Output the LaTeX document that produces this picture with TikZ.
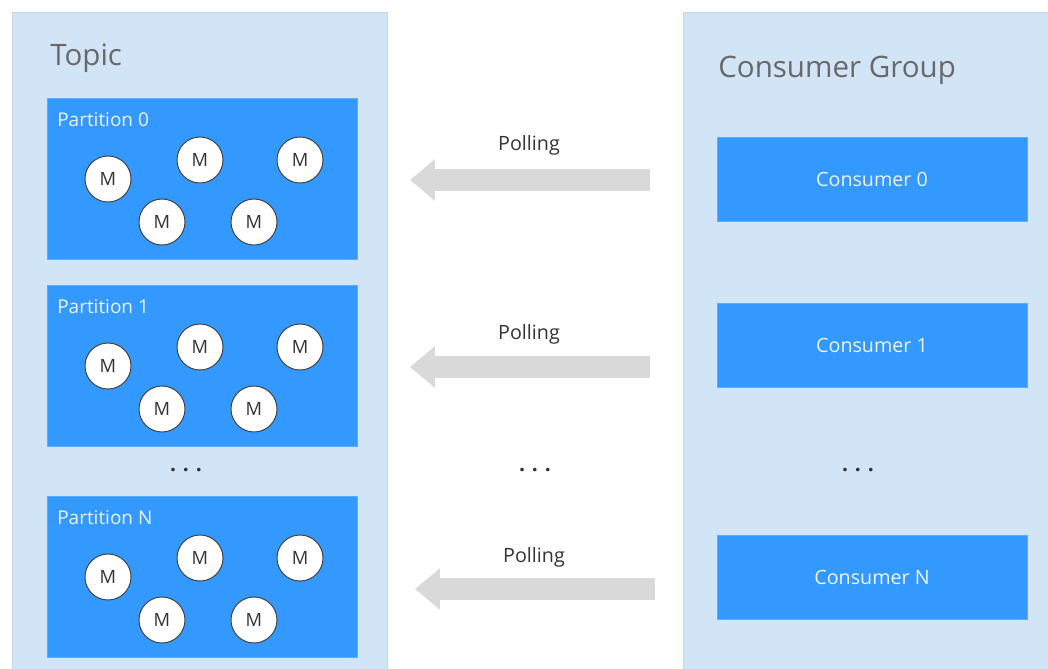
\documentclass[tikz,border=0pt]{standalone}
\usepackage{fontspec}
\setmainfont{Open Sans}
\usepackage{tikz}
\usetikzlibrary{arrows.meta,positioning}
\definecolor{PanelBlue}{RGB}{210,229,247}
\definecolor{PanelEdge}{RGB}{200,214,230}
\definecolor{BoxBlue}{RGB}{51,153,255}
\definecolor{PollGrey}{RGB}{217,217,217}
\definecolor{TitleGrey}{RGB}{105,105,105}
\definecolor{LabelWhite}{RGB}{235,244,255}
\begin{document}
\begin{tikzpicture}[x=0.025cm,y=-0.025cm,
  panel/.style={draw=PanelEdge,fill=PanelBlue,line width=0.6pt,anchor=north west,inner sep=0pt},
  pbox/.style={fill=BoxBlue,draw=BoxBlue!80!white,anchor=north west,minimum width=7.75cm,minimum height=4.025cm,inner sep=0pt},
  cbox/.style={fill=BoxBlue,draw=BoxBlue!80!white,minimum width=7.75cm,minimum height=2.1cm,inner sep=0pt,
    text=LabelWhite,font=\fontsize{14}{16}\selectfont},
  msg/.style={circle,draw=black!75,fill=white,line width=0.7pt,minimum size=1.15cm,inner sep=0pt,
    font=\fontsize{13}{15}\selectfont,text=black!80},
  plabel/.style={anchor=west,inner sep=0pt,text=LabelWhite,font=\fontsize{13.5}{15}\selectfont},
  title/.style={anchor=west,inner sep=0pt,text=TitleGrey,font=\fontsize{21}{24}\selectfont},
  poll/.style={draw=PollGrey,line width=15.6pt,-{Triangle[length=17.7pt,width=28.4pt]}},
  polltext/.style={inner sep=0pt,text=black!80,font=\fontsize{14}{16}\selectfont},
  dots/.style={inner sep=0pt,text=black!80,font=\bfseries\fontsize{15}{18}\selectfont}]
\useasboundingbox (0,0) rectangle (1048,669);
% topic side
\node[panel,minimum width=9.375cm,minimum height=16.6cm] (topic) at (12,12) {};
\node[title] (topictitle) at (50,58) {Topic};
\foreach \n/\y in {0/98,1/285,N/496}{
  \node[pbox] (part\n) at (47,\y) {};
  \node[plabel] (plab\n) at (57,\y+22) {Partition \n};
  \foreach \k/\dx/\dy in {a/61/81,b/153/62,c/253/62,d/115/124,e/207/124}{
    \node[msg] (m\n\k) at (47+\dx,\y+\dy) {M};
  }
}
\node[dots] (tdots) at (186,470) {.\hspace{0.32em}.\hspace{0.32em}.};
% consumer side
\node[panel,minimum width=9.25cm,minimum height=16.6cm] (group) at (683,12) {};
\node[title] (grouptitle) at (718,70) {Consumer Group};
\node[cbox] (cons0) at (872,179) {Consumer 0};
\node[cbox] (cons1) at (872,345) {Consumer 1};
\node[cbox] (consN) at (872,577) {Consumer N};
\node[dots] (cdots) at (858,470) {.\hspace{0.32em}.\hspace{0.32em}.};
% polling arrows
\coordinate (s0) at (650,180); \coordinate (e0) at (410,180);
\coordinate (s1) at (650,367); \coordinate (e1) at (410,367);
\coordinate (sN) at (655,589); \coordinate (eN) at (415,589);
\draw[poll] (s0) -- (e0);
\draw[poll] (s1) -- (e1);
\draw[poll] (sN) -- (eN);
\node[polltext] (poll0) at (529,145) {Polling};
\node[polltext] (poll1) at (529,334) {Polling};
\node[polltext] (pollN) at (534,557) {Polling};
\node[dots] (mdots) at (535,470) {.\hspace{0.32em}.\hspace{0.32em}.};
\end{tikzpicture}
\end{document}
